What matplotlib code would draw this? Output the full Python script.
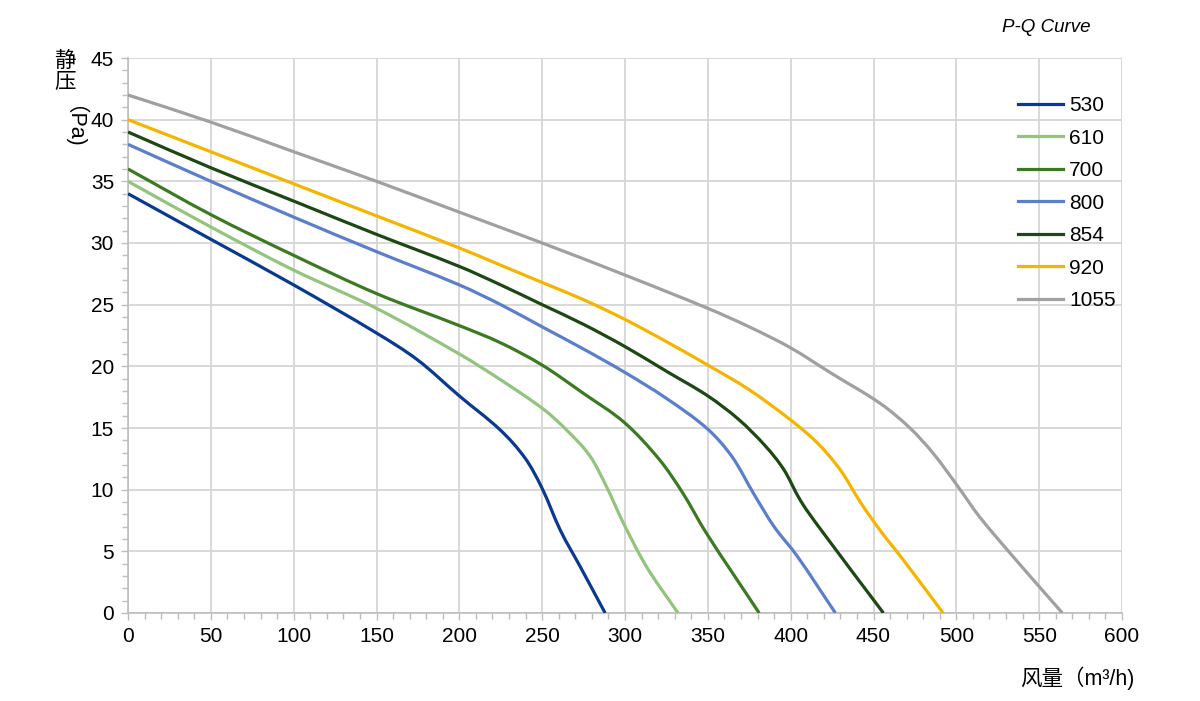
import matplotlib
matplotlib.use("Agg")
import matplotlib.pyplot as plt
from matplotlib.ticker import MultipleLocator
from matplotlib.path import Path
from matplotlib.patches import PathPatch
from matplotlib.lines import Line2D

plt.rcParams['font.family'] = ['Liberation Sans', 'Noto Sans CJK SC', 'DejaVu Sans']

# ---- data ----
labels = ['530', '610', '700', '800', '854', '920', '1055']

q_530 = [0, 50, 100, 150, 175, 200, 225, 240, 250, 261, 273, 288]
p_530 = [34, 30.3, 26.6, 22.7, 20.5, 17.6, 14.8, 12.5, 10.1, 6.7, 3.75, 0]

q_610 = [0, 50, 100, 150, 200, 225, 251, 265, 279, 289, 299, 313, 332]
p_610 = [35, 31.3, 27.8, 24.7, 21, 18.9, 16.5, 14.8, 12.7, 10.2, 7.3, 3.75, 0]

q_700 = [0, 50, 100, 150, 200, 225, 250, 275, 300, 321, 335, 349, 381]
p_700 = [36, 32.3, 29, 25.9, 23.3, 21.9, 20.1, 17.8, 15.4, 12.4, 9.7, 6.5, 0]

q_800 = [0, 50, 100, 150, 200, 225, 250, 275, 300, 325, 350, 365, 378, 390, 404, 427]
p_800 = [38, 35, 32.1, 29.3, 26.6, 25, 23.2, 21.4, 19.5, 17.4, 14.9, 12.6, 9.6, 7.0, 4.6, 0]

q_854 = [0, 50, 100, 150, 200, 225, 250, 275, 300, 325, 350, 369, 385, 396, 406, 418, 456]
p_854 = [39, 36.1, 33.4, 30.7, 28.1, 26.6, 25, 23.4, 21.6, 19.6, 17.6, 15.65, 13.5, 11.6, 9.1, 6.8, 0]

q_920 = [0, 50, 100, 150, 200, 225, 250, 275, 300, 325, 350, 375, 400, 416, 430, 442, 454, 468, 492]
p_920 = [40, 37.4, 34.8, 32.2, 29.6, 28.2, 26.8, 25.4, 23.8, 22, 20.1, 18.1, 15.65, 13.8, 11.6, 9.0, 6.7, 4.3, 0]

q_1055 = [0, 50, 100, 150, 200, 250, 300, 350, 375, 400, 425, 454, 472, 486, 501, 514, 536, 564]
p_1055 = [42, 39.8, 37.4, 35, 32.5, 30, 27.4, 24.7, 23.2, 21.5, 19.4, 17.0, 15.0, 12.95, 10.25, 7.8, 4.3, 0]

series_q = [q_530, q_610, q_700, q_800, q_854, q_920, q_1055]
series_p = [p_530, p_610, p_700, p_800, p_854, p_920, p_1055]
colors = ['#0a3a8f', '#93c47d', '#3b7a22', '#5b7fc9', '#1d4713', '#f5b400', '#a0a0a0']


def smooth_path(xs, ys):
    """Smoothed line drawn as cubic Bezier segments through the data points
    (Hermite tangents in x, so uneven spacing does not cause bumps)."""
    n = len(xs)
    m = []
    for i in range(n):
        if i == 0:
            m.append((ys[1] - ys[0]) / (xs[1] - xs[0]))
        elif i == n - 1:
            m.append((ys[-1] - ys[-2]) / (xs[-1] - xs[-2]))
        else:
            m.append((ys[i + 1] - ys[i - 1]) / (xs[i + 1] - xs[i - 1]))
    verts = [(xs[0], ys[0])]
    codes = [Path.MOVETO]
    for i in range(n - 1):
        h = xs[i + 1] - xs[i]
        c1 = (xs[i] + h / 3.0, ys[i] + m[i] * h / 3.0)
        c2 = (xs[i + 1] - h / 3.0, ys[i + 1] - m[i + 1] * h / 3.0)
        verts += [c1, c2, (xs[i + 1], ys[i + 1])]
        codes += [Path.CURVE4] * 3
    return Path(verts, codes)


fig = plt.figure(figsize=(12, 7.01), dpi=100)
ax = fig.add_axes([128/1200, 88/701, 994/1200, 555/701])

handles = []
for q, p, c, lab in zip(series_q, series_p, colors, labels):
    patch = PathPatch(smooth_path(q, p), facecolor='none', edgecolor=c, lw=2.3,
                      joinstyle='round', capstyle='butt', zorder=3)
    ax.add_patch(patch)
    handles.append(Line2D([], [], color=c, lw=2.3, label=lab))

ax.set_xlim(0, 600)
ax.set_ylim(0, 45)
ax.xaxis.set_major_locator(MultipleLocator(50))
ax.xaxis.set_minor_locator(MultipleLocator(10))
ax.yaxis.set_major_locator(MultipleLocator(5))
ax.yaxis.set_minor_locator(MultipleLocator(1))
ax.grid(True, which='major', color='#d6d6d6', lw=1.3, zorder=0)
for s in ['top', 'right']:
    ax.spines[s].set_visible(False)
for s in ['left', 'bottom']:
    ax.spines[s].set_color('#bdbdbd')
    ax.spines[s].set_linewidth(1.2)
ax.tick_params(which='major', direction='out', length=5, width=1.0, color='#bdbdbd',
               labelsize=15, labelcolor='black', pad=5)
ax.tick_params(which='minor', direction='out', length=4, width=1.0, color='#bdbdbd')

leg = ax.legend(handles=handles, loc='upper left', bbox_to_anchor=(1018/1200, 1 - 96/701),
                bbox_transform=fig.transFigure,
                frameon=False, fontsize=15, handlelength=2.16, handletextpad=0.3,
                labelspacing=0.65, borderaxespad=0, borderpad=0)

# y label: stacked CJK characters, then rotated bracket text
fig.text(65/1200, 1 - 61/701, '静', fontsize=15.5, ha='center', va='center')
fig.text(65/1200, 1 - 82/701, '压', fontsize=15.5, ha='center', va='center')
fig.text(63/1200, 1 - 132/701, '（Pa)', fontsize=15.5, ha='center', va='center', rotation=-90)

fig.text(1077/1200, 1 - 678/701, '风量（m³/h)', fontsize=15.5, ha='center', va='center')
fig.text(1090/1200, 1 - 27/701, 'P-Q Curve', fontsize=13.5, style='italic', ha='right', va='center')

fig.savefig('out.png', dpi=100)
